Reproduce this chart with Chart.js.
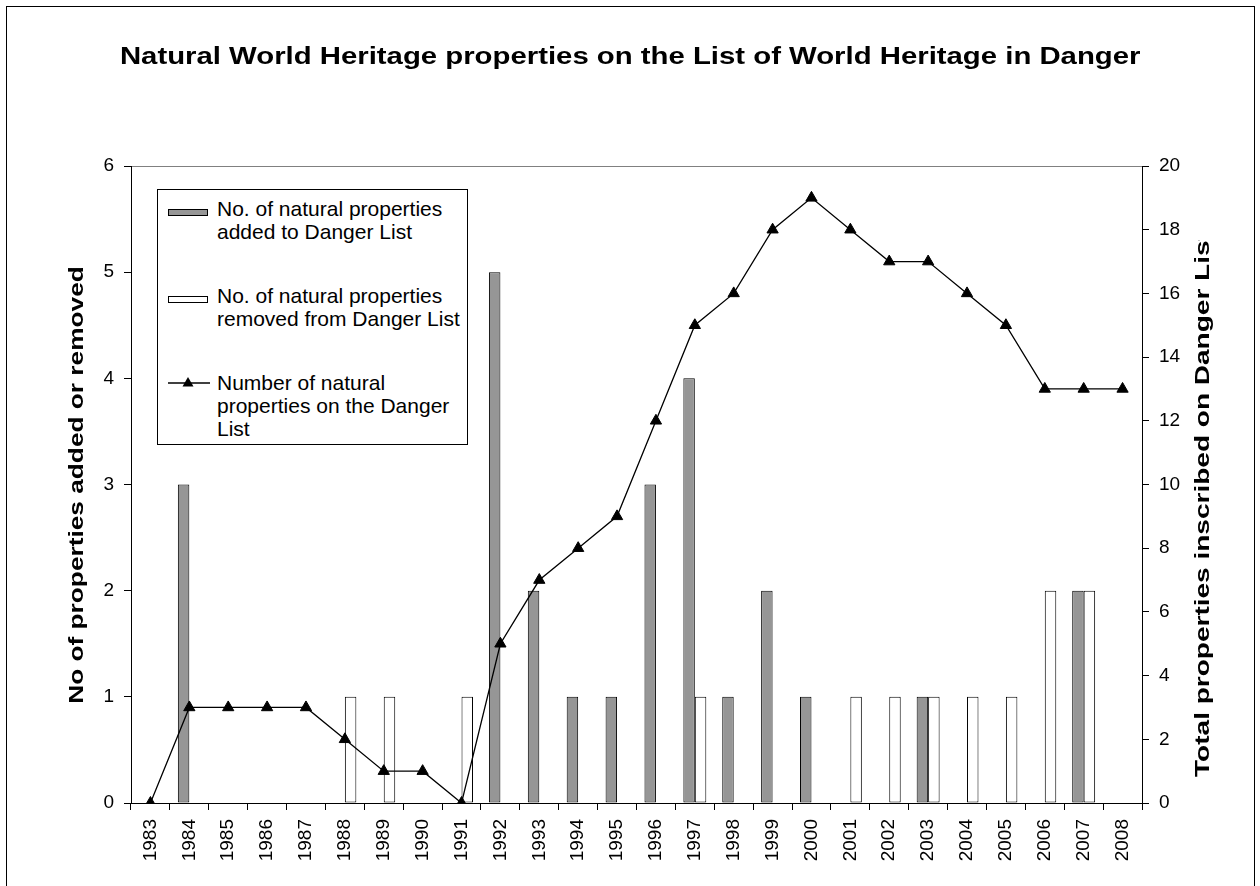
<!DOCTYPE html>
<html><head><meta charset="utf-8">
<script src="https://cdn.jsdelivr.net/npm/chart.js@4.4.0/dist/chart.umd.min.js"></script>
<style>
html,body{margin:0;padding:0;background:#fff;overflow:hidden;width:1260px;height:886px;font-family:"Liberation Sans",Arial,sans-serif;color:#000;}
#frame{position:absolute;left:6px;top:6px;width:1249px;height:920px;border:1px solid #000;box-sizing:border-box;}
#wrap{position:absolute;left:0;top:0;width:1260px;height:886px;}
#title{position:absolute;left:0;width:1260px;top:42px;height:28px;line-height:28px;text-align:center;font-weight:bold;font-size:23px;white-space:nowrap;}
#title span{display:inline-block;transform:scaleX(1.275);}
#legend{position:absolute;left:157px;top:189px;width:311px;height:256px;border:1px solid #000;box-sizing:border-box;background:#fff;font-size:21px;line-height:23px;}
#legend .txt{position:absolute;left:59px;white-space:nowrap;}
#legend .box{position:absolute;left:10px;width:40px;height:7px;border:1px solid #000;box-sizing:border-box;}
#legend svg{position:absolute;left:10px;}
.atitle{position:absolute;width:640px;height:26px;line-height:26px;text-align:center;font-weight:bold;font-size:21px;white-space:nowrap;transform-origin:50% 50%;}
#ltitle{left:-244px;top:472px;transform:rotate(-90deg) scaleX(1.25);}
#rclip{position:absolute;left:1170px;top:240px;width:70px;height:660px;overflow:hidden;}
#rtitle{left:-288px;top:251px;transform:rotate(-90deg) scaleX(1.334);}
</style>
</head><body>
<div id="frame"></div>
<div id="wrap"><canvas id="c" width="1260" height="886"></canvas></div>
<div id="title"><span>Natural World Heritage properties on the List of World Heritage in Danger</span></div>
<div id="legend">
  <div class="box" style="top:19px;background:#969696;"></div>
  <div class="txt" style="top:7px;">No. of natural properties<br>added to Danger List</div>
  <div class="box" style="top:106px;background:#fff;"></div>
  <div class="txt" style="top:94px;">No. of natural properties<br>removed from Danger List</div>
  <svg width="42" height="18" style="top:184px;"><line x1="0" y1="9" x2="42" y2="9" stroke="#000" stroke-width="1.3"/><polygon points="20,3 25.5,12.5 14.5,12.5" fill="#000"/></svg>
  <div class="txt" style="top:181px;">Number of natural<br>properties on the Danger<br>List</div>
</div>
<div class="atitle" id="ltitle">No of properties added or removed</div>
<div id="rclip"><div class="atitle" id="rtitle">Total properties inscribed on Danger List</div></div>
<script>
const years = ['1983','1984','1985','1986','1987','1988','1989','1990','1991','1992','1993','1994','1995','1996','1997','1998','1999','2000','2001','2002','2003','2004','2005','2006','2007','2008'];
const added   = [0,3,0,0,0,0,0,0,0,5,2,1,1,3,4,1,2,1,0,0,1,0,0,0,2,0];
const removed = [0,0,0,0,0,1,1,0,1,0,0,0,0,0,1,0,0,0,1,1,1,1,1,2,2,0];
const total   = [0,3,3,3,3,2,1,1,0,5,7,8,9,12,15,16,18,19,18,17,17,16,15,13,13,13];
const leftMax = 6, leftStep = 1;
const rightMax = 20, rightStep = 2;

const FONT = '"Liberation Sans", Arial, sans-serif';
Chart.defaults.font.family = FONT;
Chart.defaults.color = '#000';

new Chart(document.getElementById('c'), {
  type: 'bar',
  data: {
    labels: years,
    datasets: [
      { type:'line', label:'Number of natural properties on the Danger List', data: total, yAxisID:'y1',
        borderColor:'#000', borderWidth:1.3, pointStyle:'triangle', pointRadius:6.5,
        pointBackgroundColor:'#000', pointBorderColor:'#000', pointBorderWidth:1, tension:0, order:0 },
      { label:'No. of natural properties added to Danger List', data: added, yAxisID:'y',
        backgroundColor:'#969696', borderColor:'#000', borderWidth:1, borderSkipped:false,
        categoryPercentage:0.59, barPercentage:1, order:1 },
      { label:'No. of natural properties removed from Danger List', data: removed, yAxisID:'y',
        backgroundColor:'#fff', borderColor:'#000', borderWidth:1, borderSkipped:false,
        categoryPercentage:0.59, barPercentage:1, order:1 }
    ]
  },
  options: {
    responsive:false, animation:false,
    layout:{ padding:{ top:166, left:0, right:0, bottom:0 } },
    plugins:{ legend:{ display:false }, tooltip:{ enabled:false }, title:{ display:false } },
    scales:{
      x:{ type:'category', offset:true,
        grid:{ offset:true, drawOnChartArea:false, tickLength:7, tickColor:'#000', tickWidth:1 },
        border:{ color:'#000', width:1 },
        ticks:{ minRotation:90, maxRotation:90, autoSkip:false, font:{ size:19 }, color:'#000', padding:9 },
        afterFit: s => { s.height = 83; } },
      y:{ position:'left', min:0, max:leftMax,
        ticks:{ stepSize:leftStep, font:{ size:19 }, color:'#000', padding:10 },
        grid:{ color: ctx => (ctx.tick && ctx.tick.value === leftMax) ? '#808080' : 'transparent', tickColor:'#000', tickLength:7, lineWidth:1 },
        border:{ color:'#000', width:1 },
        title:{ display:false },
        afterFit: s => { s.width = 131; } },
      y1:{ position:'right', min:0, max:rightMax,
        ticks:{ stepSize:rightStep, font:{ size:19 }, color:'#000', padding:10 },
        grid:{ drawOnChartArea:false, tickColor:'#000', tickLength:7 },
        border:{ color:'#000', width:1 },
        afterFit: s => { s.width = 118; } }
    }
  }
});
</script>
</body></html>
